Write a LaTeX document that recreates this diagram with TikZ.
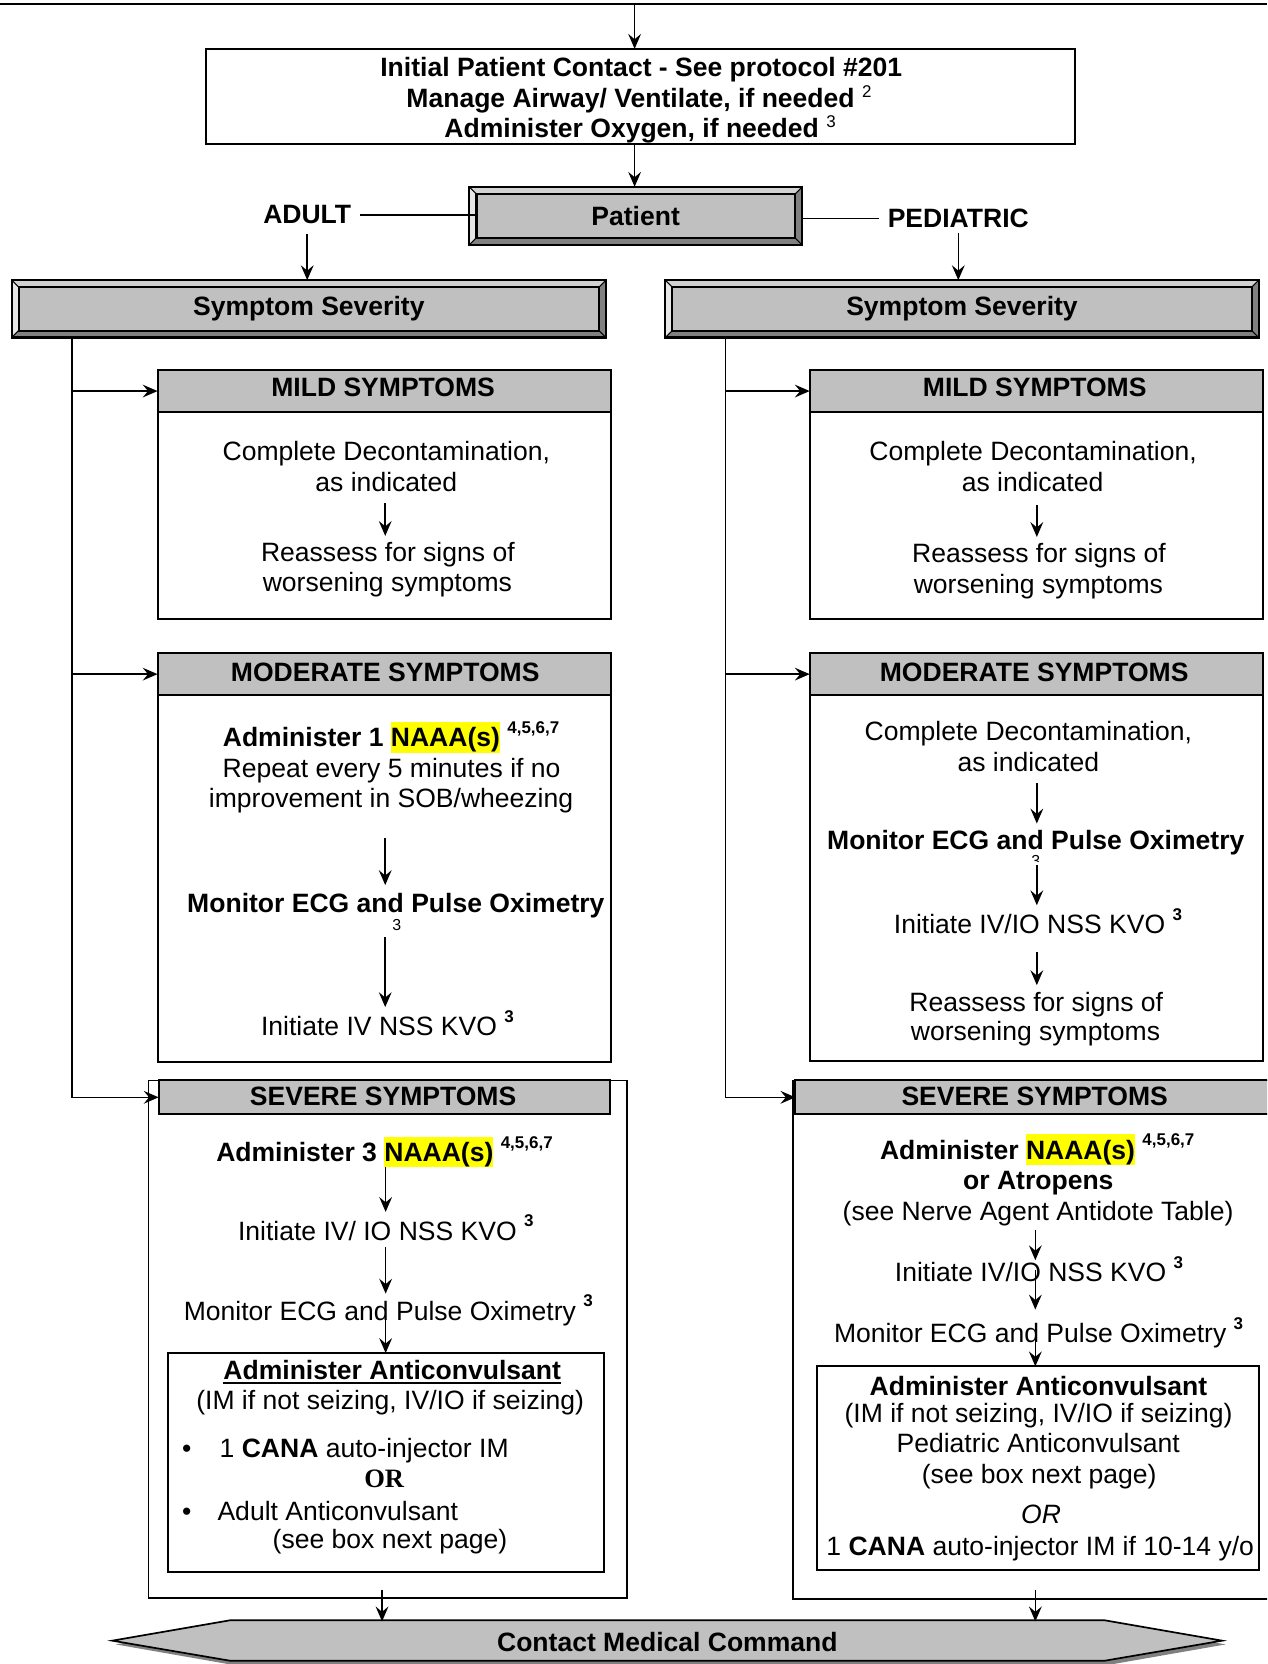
\documentclass[tikz,border=0pt]{standalone}
\usepackage{fontspec}
\setmainfont{Liberation Sans}
\newfontfamily\timesfont{Liberation Serif}
\usetikzlibrary{arrows.meta,calc}
\definecolor{facegray}{HTML}{C0C0C0}
\definecolor{bevtop}{HTML}{D2D2D2}
\definecolor{bevleft}{HTML}{E6E6E6}
\definecolor{bevdark}{HTML}{808080}
\definecolor{hlyellow}{HTML}{FFFF00}
\definecolor{shadowgray}{HTML}{808080}
\newcommand\hlt[1]{{\setlength{\fboxsep}{0pt}\colorbox{hlyellow}{\vrule height 11.7pt depth 2.8pt width 0pt #1}}}
\newcommand\supb[1]{\raisebox{6.3pt}{\fontsize{8}{9}\selectfont\bfseries #1}}
\newcommand\supr[1]{\raisebox{4.8pt}{\fontsize{8}{9}\selectfont\mdseries #1}}
\newcommand\bevelize[2]{%
  \fill[bevtop] (#1.north west) -- (#1.north east) -- ($(#1.north east)+(-#2,#2)$) -- ($(#1.north west)+(#2,#2)$) -- cycle;
  \fill[bevleft] (#1.north west) -- ($(#1.north west)+(#2,#2)$) -- ($(#1.south west)+(#2,-#2)$) -- (#1.south west) -- cycle;
  \fill[bevdark] (#1.south west) -- ($(#1.south west)+(#2,-#2)$) -- ($(#1.south east)+(-#2,-#2)$) -- (#1.south east) -- cycle;
  \fill[bevdark] (#1.north east) -- (#1.south east) -- ($(#1.south east)+(-#2,-#2)$) -- ($(#1.north east)+(-#2,#2)$) -- cycle;
  \draw[line width=1pt] ($(#1.north west)+(#2,#2)$) rectangle ($(#1.south east)+(-#2,-#2)$);
  \draw[line width=0.5pt] (#1.north west) -- ($(#1.north west)+(#2,#2)$) (#1.north east) -- ($(#1.north east)+(-#2,#2)$) (#1.south west) -- ($(#1.south west)+(#2,-#2)$) (#1.south east) -- ($(#1.south east)+(-#2,-#2)$);
  \draw[line width=1pt] (#1.north west) rectangle (#1.south east);
}
\begin{document}
\begin{tikzpicture}[x=0.5pt,y=-0.5pt,
 txt/.style={inner sep=0pt,outer sep=0pt,font=\fontsize{12.5}{14.5}\selectfont},
 btxt/.style={inner sep=0pt,outer sep=0pt,font=\fontsize{12.5}{14.5}\selectfont\bfseries},
 stxt/.style={inner sep=0pt,outer sep=0pt,font=\fontsize{7.5}{8}\selectfont},
 box/.style={draw,line width=1pt,fill=white,inner sep=0pt,outer sep=0pt,anchor=north west},
 obox/.style={draw,line width=0.75pt,fill=white,inner sep=0pt,outer sep=0pt,anchor=north west},
 hdr/.style={draw,line width=1pt,fill=facegray,inner sep=0pt,outer sep=0pt,anchor=north west},
 arr/.style={line width=0.75pt,-{Stealth[length=7pt,width=6pt,inset=2.5pt]}},
 ln/.style={line width=0.75pt}]
\useasboundingbox (0,0) rectangle (1194,1568);
\clip (0,0) rectangle (1194,1568);
\fill[white] (0,0) rectangle (1194,1568);

% ---------- top part
\coordinate (topL) at (0,3.8);
\coordinate (topR) at (1194,3.8);
\coordinate (topc) at (598,3.8);
\draw[line width=1.2pt] (topL) -- (topR);
\node[box,minimum width=409.5pt,minimum height=45pt] (init) at (194,46) {};
\node[btxt,anchor=base] (i1) at (604.3,72.5) {Initial Patient Contact - See protocol \#201};
\node[btxt,anchor=base west] (i2) at (383,101.3) {Manage Airway/ Ventilate, if needed\hspace{3.5pt}\supr{2}};
\node[btxt,anchor=base west] (i3) at (418.8,129.6) {Administer Oxygen, if needed\hspace{3.5pt}\supr{3}};

\node[hdr,minimum width=157pt,minimum height=27.5pt,font=\fontsize{12.5}{14.5}\selectfont\bfseries] (pat) at (442,176) {Patient};
\bevelize{pat}{7}
\node[btxt,anchor=base] (adult) at (289.5,211) {ADULT};
\node[btxt,anchor=base] (ped) at (903,214.5) {PEDIATRIC};

\node[hdr,minimum width=280pt,minimum height=27pt,font=\fontsize{12.5}{14.5}\selectfont\bfseries] (ssL) at (11,264) {Symptom Severity};
\bevelize{ssL}{6.5}
\node[hdr,minimum width=279.5pt,minimum height=27pt,font=\fontsize{12.5}{14.5}\selectfont\bfseries] (ssR) at (627,264) {Symptom Severity};
\bevelize{ssR}{6.5}

% ---------- mild
\node[box,minimum width=213.75pt,minimum height=97.75pt] (mildLb) at (148.5,388) {};
\node[hdr,minimum width=213.75pt,minimum height=19.5pt] (mildLh) at (148.5,349) {};
\node[box,minimum width=213.5pt,minimum height=97.75pt] (mildRb) at (763,388) {};
\node[hdr,minimum width=213.5pt,minimum height=19.5pt] (mildRh) at (763,349) {};
% ---------- moderate
\node[box,minimum width=213.75pt,minimum height=173pt] (modLb) at (148.5,655) {};
\node[hdr,minimum width=213.75pt,minimum height=19.75pt] (modLh) at (148.5,615.5) {};
\node[box,minimum width=213.5pt,minimum height=172.5pt] (modRb) at (763,655) {};
\node[hdr,minimum width=213.5pt,minimum height=19.75pt] (modRh) at (763,615.5) {};
% ---------- severe
\node[obox,minimum width=225.5pt,minimum height=244pt] (sevLo) at (140,1018) {};
\node[hdr,minimum width=212.75pt,minimum height=16pt] (sevLh) at (149.5,1018) {};
\node[box,minimum width=205.25pt,minimum height=103pt] (acL) at (158.5,1275) {};
\node[obox,minimum width=231.25pt,minimum height=244.5pt] (sevRo) at (747.5,1018) {};
\node[hdr,minimum width=230.25pt,minimum height=16pt] (sevRh) at (749.5,1018) {};
\node[box,minimum width=208.25pt,minimum height=96pt] (acR) at (770,1287.5) {};

% ---------- contact medical command
\fill[shadowgray] (109,1549.5) -- (220.5,1530.5) -- (1043.5,1530.5) -- (1155,1549.5) -- (1043.5,1569) -- (220.5,1569) -- cycle;
\filldraw[fill=facegray,draw=black,line width=0.8pt] (105.8,1546) -- (217.3,1526.7) -- (1040.4,1526.7) -- (1151.6,1546) -- (1040.4,1565) -- (217.3,1565) -- cycle;
\node[btxt,minimum width=411.5pt,minimum height=19.15pt] (contact) at (628.85,1547) {Contact Medical Command};

% ---------- header texts
\node[btxt,anchor=base] (hMildL) at (361,374) {MILD SYMPTOMS};
\node[btxt,anchor=base] (hMildR) at (975,374) {MILD SYMPTOMS};
\node[btxt,anchor=base] (hModL) at (363,642.3) {MODERATE SYMPTOMS};
\node[btxt,anchor=base] (hModR) at (974.5,642.3) {MODERATE SYMPTOMS};
\node[btxt,anchor=base] (hSevL) at (361,1042) {SEVERE SYMPTOMS};
\node[btxt,anchor=base] (hSevR) at (975,1042) {SEVERE SYMPTOMS};

% ---------- mild texts
\node[txt,anchor=base] (mL1) at (364,433.8) {Complete Decontamination,};
\node[txt,anchor=base] (mL2) at (364,462.8) {as indicated};
\node[txt,anchor=base] (mL3) at (365.5,528.8) {Reassess for signs of};
\node[txt,anchor=base] (mL4) at (365,557.8) {worsening symptoms};
\node[txt,anchor=base] (mR1) at (973.5,433.8) {Complete Decontamination,};
\node[txt,anchor=base] (mR2) at (973,462.8) {as indicated};
\node[txt,anchor=base] (mR3) at (979,530) {Reassess for signs of};
\node[txt,anchor=base] (mR4) at (978.5,559.6) {worsening symptoms};

% ---------- moderate texts (adult)
\node[btxt,anchor=base west] (oL1) at (210,703.5) {Administer 1 \hlt{NAAA(s)} \supb{4,5,6,7}};
\node[txt,anchor=base] (oL2) at (369,732.8) {Repeat every 5 minutes if no};
\node[txt,anchor=base] (oL3) at (368.5,760.8) {improvement in SOB/wheezing};
\node[btxt,anchor=base] (oL4) at (373,859.6) {Monitor ECG and Pulse Oximetry};
\node[stxt,anchor=base] (oL5) at (374,876.8) {3};
\node[txt,anchor=base west] (oL6) at (246,976.2) {Initiate IV NSS KVO \supb{3}};
% ---------- moderate texts (pediatric)
\node[txt,anchor=base] (oR1) at (969,698) {Complete Decontamination,};
\node[txt,anchor=base] (oR2) at (969,727) {as indicated};
\node[btxt,anchor=base] (oR3) at (976,800.2) {Monitor ECG and Pulse Oximetry};
\begin{scope}
\clip (960,803) rectangle (992,811.5);
\node[stxt,anchor=base] (oR4) at (976,816.5) {3};
\end{scope}
\node[txt,anchor=base west] (oR5) at (842.3,879.7) {Initiate IV/IO NSS KVO \supb{3}};
\node[txt,anchor=base] (oR6) at (976.5,953.2) {Reassess for signs of};
\node[txt,anchor=base] (oR7) at (975.8,980.7) {worsening symptoms};

% ---------- severe texts (adult)
\node[btxt,anchor=base west] (sL1) at (203.8,1094.4) {Administer 3 \hlt{NAAA(s)} \supb{4,5,6,7}};
\node[txt,anchor=base west] (sL2) at (224.3,1168.6) {Initiate IV/ IO NSS KVO \supb{3}};
\node[txt,anchor=base west] (sL3) at (173.2,1244) {Monitor ECG and Pulse Oximetry \supb{3}};
\node[btxt,anchor=base] (aL1) at (369.6,1299.6) {Administer Anticonvulsant};
\draw[line width=1pt] ([yshift=-1.9pt]aL1.base west) -- ([yshift=-1.9pt]aL1.base east);
\node[txt,anchor=base] (aL2) at (367.7,1328.6) {(IM if not seizing, IV/IO if seizing)};
\node[txt,anchor=base] (bL1) at (176,1373.4) {\textbullet};
\node[txt,anchor=base west] (aL3) at (207,1373.4) {1 \textbf{CANA} auto-injector IM};
\node[txt,anchor=base] (aL4) at (362,1401.6) {\timesfont\bfseries OR};
\node[txt,anchor=base] (bL2) at (176,1432.5) {\textbullet};
\node[txt,anchor=base west] (aL5) at (205,1432.5) {Adult Anticonvulsant};
\node[txt,anchor=base west] (aL6) at (257,1459.6) {(see box next page)};
% ---------- severe texts (pediatric)
\node[btxt,anchor=base west] (sR1) at (829.3,1092.2) {Administer \hlt{NAAA(s)} \supb{4,5,6,7}};
\node[btxt,anchor=base] (sR2) at (978.4,1120.5) {or Atropens};
\node[txt,anchor=base] (sR3) at (978.2,1149.7) {(see Nerve Agent Antidote Table)};
\node[txt,anchor=base west] (sR4) at (843.3,1207.6) {Initiate IV/IO NSS KVO \supb{3}};
\node[txt,anchor=base west] (sR5) at (786,1265) {Monitor ECG and Pulse Oximetry \supb{3}};
\node[btxt,anchor=base] (aR1) at (978.5,1315.3) {Administer Anticonvulsant};
\node[txt,anchor=base] (aR2) at (978.6,1340.4) {(IM if not seizing, IV/IO if seizing)};
\node[txt,anchor=base] (aR3) at (978.3,1368.7) {Pediatric Anticonvulsant};
\node[txt,anchor=base] (aR4) at (979.2,1397.6) {(see box next page)};
\node[txt,anchor=base] (aR5) at (981,1435.6) {\itshape OR};
\node[txt,anchor=base] (aR6) at (980.2,1466) {1 \textbf{CANA} auto-injector IM if 10-14 y/o};

% ---------- connectors: top
\draw[arr] (topc) -- (topc |- init.north);
\draw[arr] (topc |- init.south) -- (topc |- pat.north);
\draw[ln] ([xshift=4.2pt]adult.east) -- ([xshift=4.2pt]adult.east -| pat.west);
\draw[ln] (pat.east |- ped.west) -- ([xshift=-4pt]ped.west);
\draw[arr] ([yshift=-4.5pt]adult.south) -- (adult.south |- ssL.north);
\draw[arr] ([yshift=-2.3pt]ped.south) -- (ped.south |- ssR.north);

% ---------- trunks
\coordinate (tL) at (67.6,0);
\coordinate (tR) at (683.5,0);
\draw[arr] (ssL.south -| tL) |- (sevLh.west);
\draw[arr] (tL |- mildLh.west) -- (mildLh.west);
\draw[arr] (tL |- modLh.west) -- (modLh.west);
\draw[arr] (ssR.south -| tR) |- (sevRh.west);
\draw[arr] (tR |- mildRh.west) -- (mildRh.west);
\draw[arr] (tR |- modRh.west) -- (modRh.west);

% ---------- arrows inside boxes
\coordinate (mLa) at (363,474); \coordinate (mLb) at (363,505);
\draw[arr] (mLa) -- (mLb);
\coordinate (mRa) at (977,476); \coordinate (mRb) at (977,506);
\draw[arr] (mRa) -- (mRb);

\coordinate (oLa) at (363,790); \coordinate (oLb) at (363,834);
\draw[arr] (oLa) -- (oLb);
\coordinate (oLc) at (363,883); \coordinate (oLd) at (363,949);
\draw[arr] (oLc) -- (oLd);

\coordinate (oRa) at (977,738); \coordinate (oRb) at (977,776);
\draw[arr] (oRa) -- (oRb);
\coordinate (oRc) at (977,815); \coordinate (oRd) at (977,853);
\draw[arr] (oRc) -- (oRd);
\coordinate (oRe) at (977,897); \coordinate (oRf) at (977,928.3);
\draw[arr] (oRe) -- (oRf);

\coordinate (sLa) at (363.4,1099.5); \coordinate (sLb) at (363.4,1142);
\draw[arr] (sLa) -- (sLb);
\coordinate (sLc) at (363.4,1175); \coordinate (sLd) at (363.4,1219);
\draw[arr] (sLc) -- (sLd);
\coordinate (sLe) at (363.4,1228);
\draw[arr] (sLe) -- (sLe |- acL.north);

\coordinate (sRa) at (975.6,1158.6); \coordinate (sRb) at (975.6,1187.5);
\draw[arr] (sRa) -- (sRb);
\coordinate (sRc) at (975.6,1197); \coordinate (sRd) at (975.6,1234);
\draw[arr] (sRc) -- (sRd);
\coordinate (sRe) at (975.6,1250);
\draw[arr] (sRe) -- (sRe |- acR.north);

% ---------- to contact
\coordinate (cL) at (360,1498);
\draw[arr] (cL) -- (cL |- contact.north);
\coordinate (cR) at (975.6,1498);
\draw[arr] (cR) -- (cR |- contact.north);
\end{tikzpicture}
\end{document}
